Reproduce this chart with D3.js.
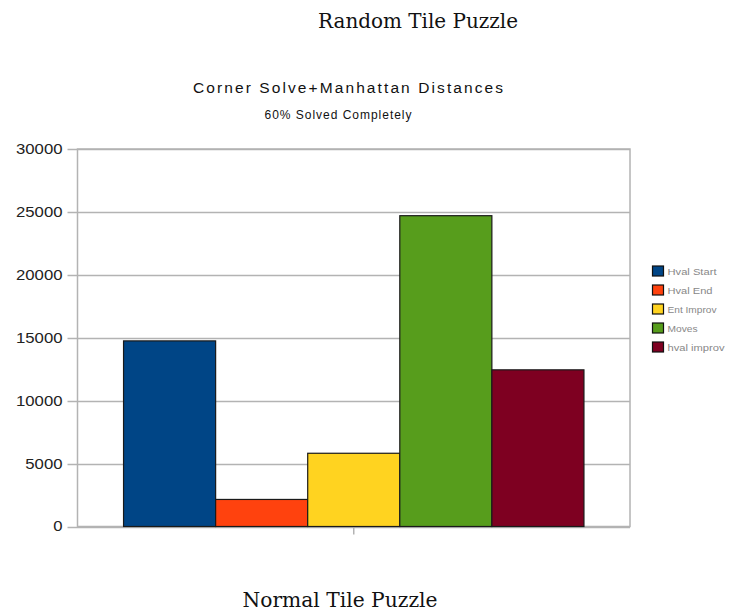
<!DOCTYPE html>
<html>
<head>
<meta charset="utf-8">
<script src="https://cdn.jsdelivr.net/npm/d3@7"></script>
<style>
  html, body { margin: 0; padding: 0; background: #fff; }
  svg { display: block; }
</style>
</head>
<body>
<svg id="chart" width="729" height="616"></svg>
<script>
// Series shown as bars within the single category group
const seriesNames = ["Hval Start", "Hval End", "Ent Improv", "Moves", "hval improv"];
const seriesValues = [14750, 2150, 5820, 24700, 12450];
const seriesColors = ["#004586", "#ff420e", "#ffd320", "#579d1c", "#7e0021"];
const yTicks = [0, 5000, 10000, 15000, 20000, 25000, 30000];
const category = ["Corner Solve"];

const svg = d3.select("#chart");
const W = 729, H = 616;
svg.append("rect").attr("width", W).attr("height", H).attr("fill", "#fff");

const plot = { left: 77.5, right: 630, top: 149, bottom: 526.5 };

const y = d3.scaleLinear().domain([0, 30000]).range([plot.bottom, plot.top]);
const x0 = d3.scaleBand().domain(category).range([plot.left, plot.right]).paddingInner(0).paddingOuter(0.1);
const x1 = d3.scaleBand().domain(seriesNames).range([0, x0.bandwidth()]).padding(0);

const sans = "Liberation Sans, Arial, sans-serif";
const serif = "DejaVu Serif, serif";

// Page headings
svg.append("text")
  .attr("x", 418).attr("y", 28)
  .attr("text-anchor", "middle")
  .attr("font-family", serif)
  .attr("font-size", 20)
  .attr("textLength", 200).attr("lengthAdjust", "spacingAndGlyphs")
  .attr("fill", "#111")
  .text("Random Tile Puzzle");

svg.append("text")
  .attr("x", 340).attr("y", 607)
  .attr("text-anchor", "middle")
  .attr("font-family", serif)
  .attr("font-size", 20)
  .attr("textLength", 195).attr("lengthAdjust", "spacingAndGlyphs")
  .attr("fill", "#111")
  .text("Normal Tile Puzzle");

// Chart titles
svg.append("text")
  .attr("x", 348).attr("y", 93)
  .attr("text-anchor", "middle")
  .attr("font-family", sans)
  .attr("font-size", 15.5)
  .attr("textLength", 310).attr("lengthAdjust", "spacing")
  .attr("fill", "#111")
  .text("Corner Solve+Manhattan Distances");

svg.append("text")
  .attr("x", 338).attr("y", 119)
  .attr("text-anchor", "middle")
  .attr("font-family", sans)
  .attr("font-size", 12)
  .attr("textLength", 147).attr("lengthAdjust", "spacing")
  .attr("fill", "#111")
  .text("60% Solved Completely");

// Grid lines
const grid = svg.append("g");
grid.selectAll("line")
  .data(yTicks)
  .join("line")
  .attr("x1", plot.left - 10).attr("x2", plot.right)
  .attr("y1", d => Math.round(y(d)) + 0.5).attr("y2", d => Math.round(y(d)) + 0.5)
  .attr("stroke", "#b3b3b3").attr("stroke-width", 1.5);

// Plot frame
svg.append("rect")
  .attr("x", plot.left).attr("y", plot.top)
  .attr("width", plot.right - plot.left).attr("height", plot.bottom - plot.top)
  .attr("fill", "none").attr("stroke", "#b3b3b3").attr("stroke-width", 1.5);

// Y axis labels
const fmt = d3.format("d");
const yAxis = d3.axisLeft(y).tickValues(yTicks).tickSize(0).tickPadding(15).tickFormat(fmt);
const gy = svg.append("g").attr("transform", `translate(${plot.left},0)`).call(yAxis);
gy.select(".domain").remove();
gy.selectAll("text")
  .attr("font-family", sans)
  .attr("font-size", 14)
  .attr("textLength", d => fmt(d).length * 9.3)
  .attr("lengthAdjust", "spacingAndGlyphs")
  .attr("fill", "#222");

// X axis tick at category centre
const xAxis = d3.axisBottom(x0).tickSize(8).tickFormat("");
const gx = svg.append("g").attr("transform", `translate(0,${plot.bottom})`).call(xAxis);
gx.select(".domain").remove();
gx.selectAll("line").attr("stroke", "#b3b3b3").attr("stroke-width", 1.5);

// Bars
const group = svg.append("g").attr("transform", `translate(${x0(category[0])},0)`);
group.selectAll("rect")
  .data(seriesNames.map((n, i) => ({ name: n, value: seriesValues[i], color: seriesColors[i] })))
  .join("rect")
  .attr("x", d => x1(d.name))
  .attr("y", d => y(d.value))
  .attr("width", x1.bandwidth())
  .attr("height", d => y(0) - y(d.value))
  .attr("fill", d => d.color)
  .attr("stroke", "#1a1a1a")
  .attr("stroke-width", 1.2);

// Legend
const legendWidths = [49, 45, 49, 30, 57];
const legend = svg.append("g").attr("transform", "translate(652.5,266)");
const items = legend.selectAll("g")
  .data(seriesNames)
  .join("g")
  .attr("transform", (d, i) => `translate(0,${i * 19})`);
items.append("rect")
  .attr("width", 11).attr("height", 10)
  .attr("fill", (d, i) => seriesColors[i])
  .attr("stroke", "#111").attr("stroke-width", 1.2);
items.append("text")
  .attr("x", 15).attr("y", 9)
  .attr("font-family", sans)
  .attr("font-size", 9.5)
  .attr("textLength", (d, i) => legendWidths[i])
  .attr("lengthAdjust", "spacingAndGlyphs")
  .attr("fill", "#888")
  .text(d => d);
</script>
</body>
</html>
